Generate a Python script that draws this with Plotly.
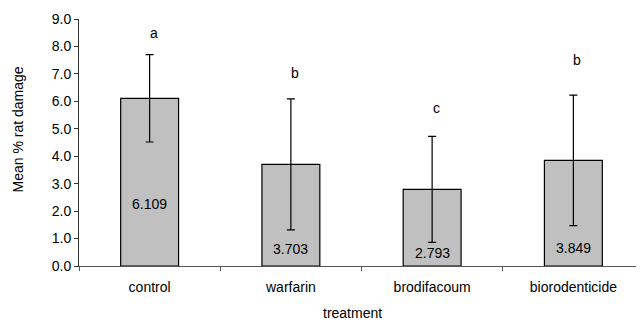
import plotly.graph_objects as go

categories = ["control", "warfarin", "brodifacoum", "biorodenticide"]
means = [6.109, 3.703, 2.793, 3.849]
errors = [1.59, 2.39, 1.93, 2.38]
letters = ["a", "b", "c", "b"]
letter_y = [8.49, 7.03, 5.76, 7.50]
value_label_y = [2.26, 0.61, 0.48, 0.67]
y_ticks = [0, 1, 2, 3, 4, 5, 6, 7, 8, 9]

FONT = "Liberation Sans, Arial, sans-serif"
FS = 14

# page body has an 8px margin, so the figure is sized/offset to compensate
OFF = 8
W, H = 644 - OFF, 322 - OFF
L, T, PW, PH = 79 - OFF, 19 - OFF, 565, 247

fig = go.Figure()
fig.add_trace(go.Bar(
    x=categories, y=means, width=0.41,
    marker=dict(color="#C0C0C0", line=dict(color="#000000", width=1.2)),
    error_y=dict(type="data", array=errors, visible=True, color="#000000", thickness=1.2, width=4),
    showlegend=False,
))

annotations = []
for c, l, ly in zip(categories, letters, letter_y):
    annotations.append(dict(x=c, y=ly, text=l, showarrow=False, xshift=4,
                            font=dict(family=FONT, size=FS, color="#000"), yanchor="middle"))
for c, m, vy in zip(categories, means, value_label_y):
    annotations.append(dict(x=c, y=vy, text=f"{m:.3f}", showarrow=False,
                            font=dict(family=FONT, size=FS, color="#000"), yanchor="middle"))
# axis titles
annotations.append(dict(xref="paper", yref="paper", x=(17.5 - 79) / PW, y=(266 - 130) / PH,
                        text="Mean % rat damage", textangle=-90, showarrow=False,
                        xanchor="center", yanchor="middle",
                        font=dict(family=FONT, size=FS, color="#000")))
annotations.append(dict(xref="paper", yref="paper", x=(352 - 79) / PW, y=-(312.5 - 266) / PH,
                        text="treatment", showarrow=False, xanchor="center", yanchor="middle",
                        font=dict(family=FONT, size=FS, color="#000")))

fig.update_layout(
    width=W, height=H,
    margin=dict(l=L, r=0, t=T, b=H - T - PH),
    paper_bgcolor="white", plot_bgcolor="white",
    font=dict(family=FONT, size=FS, color="#000"),
    annotations=annotations,
    xaxis=dict(type="category", range=[-0.5, 3.5], showline=True, linecolor="#555555", linewidth=1,
               ticks="outside", tickson="boundaries", ticklen=4, tickcolor="#555555",
               ticklabelstandoff=8, showgrid=False, zeroline=False),
    yaxis=dict(range=[0, 9], tickvals=y_ticks, tickformat=".1f", showline=True, linecolor="#333333",
               linewidth=1, ticks="outside", ticklen=4, tickcolor="#333333",
               showgrid=False, zeroline=False),
)
fig.write_html("out.html")
